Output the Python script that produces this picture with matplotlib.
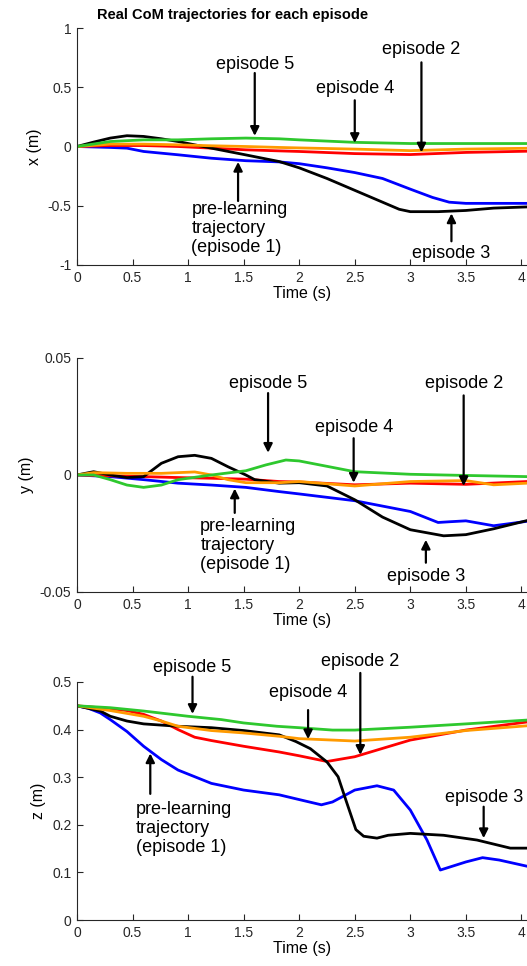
import matplotlib
matplotlib.use("Agg")
import matplotlib.pyplot as plt

# ---- x (m) subplot data ----
tx_blue = [0, 0.3, 0.45, 0.6, 0.91, 1.21, 1.52, 1.82, 2.0, 2.25, 2.5, 2.75, 3.0, 3.2, 3.35, 3.5, 4.05]
x_blue = [0, -0.008, -0.014, -0.042, -0.07, -0.099, -0.12, -0.13, -0.145, -0.18, -0.22, -0.27, -0.36, -0.43, -0.47, -0.48, -0.48]
tx_red = [0, 0.3, 0.6, 0.91, 1.21, 1.52, 1.82, 2.0, 2.5, 3.0, 3.5, 4.05]
x_red = [0, 0.008, 0.008, 0, -0.014, -0.028, -0.037, -0.042, -0.06, -0.068, -0.05, -0.04]
tx_black = [0, 0.15, 0.3, 0.45, 0.6, 0.76, 0.91, 1.21, 1.52, 1.82, 2.0, 2.25, 2.5, 2.75, 2.9, 3.0, 3.25, 3.5, 3.75, 4.05]
x_black = [0, 0.037, 0.071, 0.091, 0.085, 0.065, 0.042, -0.014, -0.071, -0.127, -0.18, -0.27, -0.37, -0.47, -0.53, -0.55, -0.55, -0.54, -0.52, -0.51]
tx_orange = [0, 0.3, 0.6, 0.91, 1.21, 1.52, 1.82, 2.0, 2.5, 3.0, 3.5, 4.05]
x_orange = [0, 0.02, 0.02, 0.014, 0.006, 0, -0.008, -0.012, -0.022, -0.035, -0.022, -0.015]
tx_green = [0, 0.3, 0.6, 0.91, 1.21, 1.52, 1.82, 2.0, 2.5, 3.0, 3.5, 4.05]
x_green = [0, 0.042, 0.056, 0.056, 0.065, 0.071, 0.065, 0.056, 0.035, 0.025, 0.025, 0.025]

# ---- y (m) subplot data ----
ty_blue = [0, 0.3, 0.6, 0.91, 1.21, 1.52, 1.82, 2.0, 2.5, 3.0, 3.25, 3.35, 3.5, 3.75, 4.05]
y_blue = [0, -0.0007, -0.002, -0.0035, -0.0043, -0.0053, -0.0071, -0.0081, -0.011, -0.0156, -0.0203, -0.02, -0.0196, -0.0217, -0.0198]
ty_red = [0, 0.6, 0.91, 1.21, 1.52, 1.82, 2.0, 2.5, 3.0, 3.5, 4.05]
y_red = [0, -0.0007, -0.0011, -0.0014, -0.0018, -0.0028, -0.003, -0.0042, -0.0035, -0.004, -0.0028]
ty_black = [0, 0.15, 0.3, 0.45, 0.6, 0.76, 0.91, 1.06, 1.21, 1.36, 1.52, 1.6, 1.82, 2.0, 2.25, 2.5, 2.75, 3.0, 3.3, 3.5, 3.75, 4.05]
y_black = [0, 0.0014, 0, -0.0011, -0.0007, 0.005, 0.0078, 0.0084, 0.0071, 0.0035, 0, -0.002, -0.0035, -0.0033, -0.0047, -0.0106, -0.018, -0.0234, -0.026, -0.0255, -0.023, -0.0195]
ty_orange = [0, 0.15, 0.45, 0.76, 0.91, 1.06, 1.21, 1.36, 1.52, 1.82, 2.0, 2.5, 3.0, 3.5, 3.75, 4.05]
y_orange = [0, 0.001, 0.0007, 0.0007, 0.001, 0.0013, 0, -0.002, -0.0033, -0.0033, -0.0028, -0.0047, -0.0028, -0.0024, -0.0042, -0.0035]
ty_green = [0, 0.15, 0.3, 0.45, 0.6, 0.76, 0.91, 1.21, 1.52, 1.7, 1.88, 2.0, 2.5, 3.0, 3.5, 4.05]
y_green = [0, 0, -0.002, -0.0043, -0.0053, -0.0043, -0.002, 0, 0.0018, 0.0043, 0.0064, 0.006, 0.0014, 0.0003, -0.0002, -0.0007]

# ---- z (m) subplot data ----
tz_blue = [0, 0.1, 0.21, 0.3, 0.45, 0.6, 0.76, 0.91, 1.21, 1.5, 1.82, 2.0, 2.2, 2.3, 2.5, 2.7, 2.85, 3.0, 3.15, 3.27, 3.5, 3.65, 3.8, 4.05]
z_blue = [0.45, 0.445, 0.435, 0.421, 0.396, 0.365, 0.337, 0.315, 0.287, 0.273, 0.263, 0.253, 0.242, 0.248, 0.273, 0.282, 0.273, 0.231, 0.168, 0.105, 0.122, 0.131, 0.126, 0.113]
tz_red = [0, 0.3, 0.45, 0.6, 0.76, 0.91, 1.06, 1.21, 1.5, 1.82, 2.0, 2.25, 2.5, 3.0, 3.5, 4.05]
z_red = [0.45, 0.444, 0.44, 0.432, 0.418, 0.40, 0.384, 0.377, 0.365, 0.353, 0.345, 0.333, 0.343, 0.378, 0.399, 0.416]
tz_black = [0, 0.21, 0.3, 0.45, 0.6, 0.91, 1.21, 1.5, 1.82, 1.97, 2.1, 2.25, 2.35, 2.42, 2.51, 2.58, 2.7, 2.8, 3.0, 3.3, 3.6, 3.9, 4.05]
z_black = [0.45, 0.439, 0.428, 0.418, 0.412, 0.407, 0.404, 0.398, 0.389, 0.375, 0.36, 0.332, 0.301, 0.252, 0.19, 0.176, 0.172, 0.178, 0.182, 0.178, 0.168, 0.151, 0.151]
tz_orange = [0, 0.3, 0.6, 0.76, 0.91, 1.21, 1.5, 1.82, 2.0, 2.5, 3.0, 3.5, 4.05]
z_orange = [0.45, 0.44, 0.428, 0.418, 0.407, 0.398, 0.393, 0.386, 0.381, 0.376, 0.384, 0.398, 0.408]
tz_green = [0, 0.3, 0.6, 1.0, 1.3, 1.5, 1.8, 2.0, 2.3, 2.5, 3.0, 3.5, 4.05]
z_green = [0.45, 0.446, 0.439, 0.428, 0.421, 0.414, 0.407, 0.404, 0.399, 0.399, 0.405, 0.412, 0.42]

colors = {'blue': '#0000ff', 'red': '#ff0000', 'black': '#000000',
          'orange': '#ff9a00', 'green': '#2ec82e'}

plt.rcParams['font.family'] = ['Liberation Sans', 'DejaVu Sans']

fig = plt.figure(figsize=(5.27, 9.66), dpi=100)
ax1 = fig.add_axes([0.146, 0.7257, 0.854, 0.2453])
ax2 = fig.add_axes([0.146, 0.3872, 0.854, 0.2422])
ax3 = fig.add_axes([0.146, 0.0476, 0.854, 0.2464])

panels = [
    (ax1, [(tx_blue, x_blue), (tx_red, x_red), (tx_black, x_black), (tx_orange, x_orange), (tx_green, x_green)],
     'x (m)', (-1, 1), [-1, -0.5, 0, 0.5, 1], ['-1', '-0.5', '0', '0.5', '1']),
    (ax2, [(ty_blue, y_blue), (ty_red, y_red), (ty_black, y_black), (ty_orange, y_orange), (ty_green, y_green)],
     'y (m)', (-0.05, 0.05), [-0.05, 0, 0.05], ['-0.05', '0', '0.05']),
    (ax3, [(tz_blue, z_blue), (tz_red, z_red), (tz_black, z_black), (tz_orange, z_orange), (tz_green, z_green)],
     'z (m)', (0, 0.5), [0, 0.1, 0.2, 0.3, 0.4, 0.5], ['0', '0.1', '0.2', '0.3', '0.4', '0.5']),
]

order = ['blue', 'red', 'black', 'orange', 'green']
for ax, series, ylab, ylim, yt, ytl in panels:
    for name, (t, v) in zip(order, series):
        ax.plot(t, v, color=colors[name], linewidth=2.0, solid_joinstyle='round')
    ax.set_xlim(0, 4.05)
    ax.set_ylim(*ylim)
    ax.set_yticks(yt)
    ax.set_yticklabels(ytl)
    ax.set_xticks([0, 0.5, 1, 1.5, 2, 2.5, 3, 3.5, 4])
    ax.set_xticklabels(['0', '0.5', '1', '1.5', '2', '2.5', '3', '3.5', '4'])
    ax.spines['top'].set_visible(False)
    ax.spines['right'].set_visible(False)
    ax.spines['left'].set_color('#262626')
    ax.spines['bottom'].set_color('#262626')
    ax.tick_params(direction='in', length=4, width=0.8, labelsize=10, colors='#262626', pad=4)
    ax.set_xlabel('Time (s)', fontsize=11.5, labelpad=1)
    ax.set_ylabel(ylab, fontsize=11.5, labelpad=4)

arrow_kw = dict(arrowstyle='-|>', color='k', lw=1.6, mutation_scale=13, shrinkA=0, shrinkB=0)
fs = 13

def label(ax, txt, xy_text, tail, tip, ha='center'):
    ax.text(xy_text[0], xy_text[1], txt, fontsize=fs, ha=ha, va='center', linespacing=1.15)
    ax.annotate('', xy=tip, xytext=tail, arrowprops=arrow_kw)

pre = 'pre-learning\ntrajectory\n(episode 1)'

# x subplot annotations
label(ax1, 'episode 5', (1.60, 0.69), (1.60, 0.62), (1.60, 0.09))
label(ax1, 'episode 4', (2.50, 0.49), (2.50, 0.39), (2.50, 0.03))
label(ax1, 'episode 2', (3.10, 0.82), (3.10, 0.71), (3.10, -0.05))
label(ax1, pre, (1.03, -0.69), (1.45, -0.46), (1.45, -0.13), ha='left')
label(ax1, 'episode 3', (3.37, -0.90), (3.37, -0.80), (3.37, -0.565))

# y subplot annotations
label(ax2, 'episode 5', (1.72, 0.039), (1.72, 0.035), (1.72, 0.0095))
label(ax2, 'episode 4', (2.49, 0.0204), (2.49, 0.0157), (2.49, -0.0033))
label(ax2, 'episode 2', (3.48, 0.039), (3.48, 0.034), (3.48, -0.0047))
label(ax2, pre, (1.11, -0.0303), (1.42, -0.0162), (1.42, -0.0058), ha='left')
label(ax2, 'episode 3', (3.14, -0.0434), (3.14, -0.0375), (3.14, -0.0277))

# z subplot annotations
label(ax3, 'episode 5', (1.04, 0.531), (1.04, 0.511), (1.04, 0.433))
label(ax3, 'episode 4', (2.08, 0.477), (2.08, 0.441), (2.08, 0.38))
label(ax3, 'episode 2', (2.55, 0.544), (2.55, 0.519), (2.55, 0.347))
label(ax3, pre, (0.53, 0.193), (0.66, 0.265), (0.66, 0.35), ha='left')
label(ax3, 'episode 3', (3.66, 0.258), (3.66, 0.238), (3.66, 0.172))

fig.text(233 / 527, 1 - 15 / 966, 'Real CoM trajectories for each episode',
         fontsize=10.5, fontweight='bold', ha='center', va='center')

fig.savefig('out.png', dpi=100)
